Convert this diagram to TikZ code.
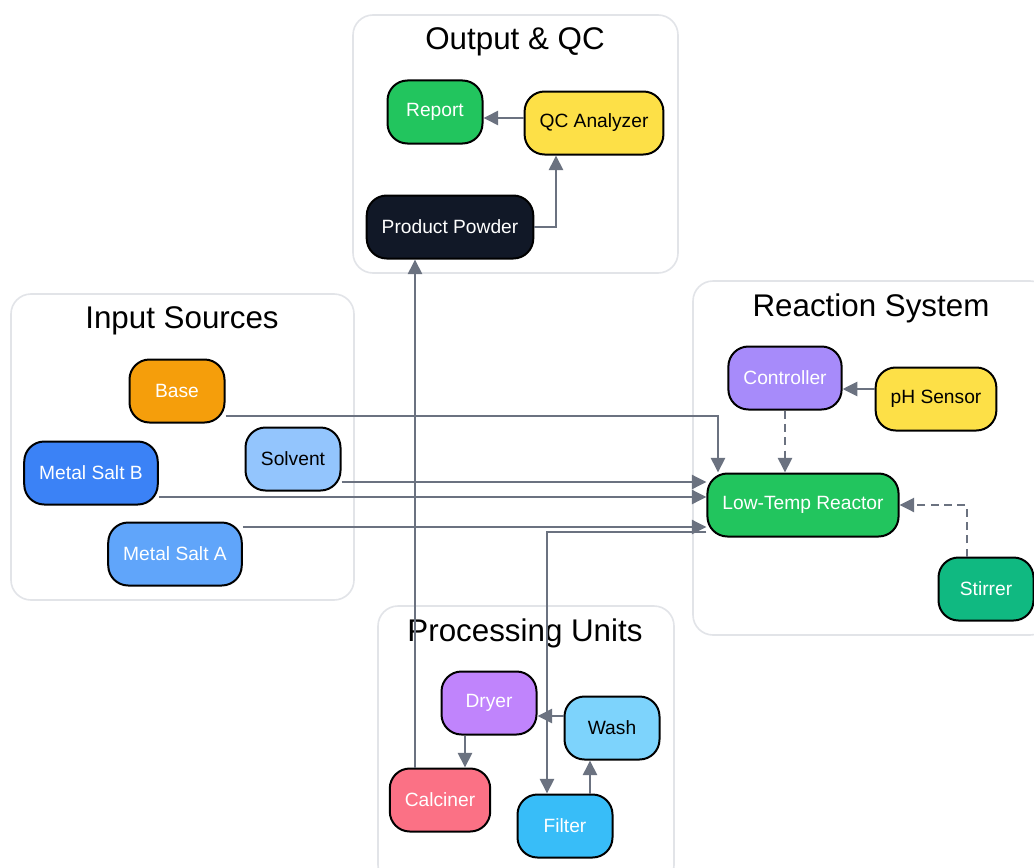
\documentclass[tikz,border=0pt]{standalone}
\usepackage{fontspec}
\setmainfont{Liberation Sans}
\usetikzlibrary{calc,arrows.meta}

\definecolor{edgegray}{RGB}{107,114,128}
\definecolor{clusterline}{RGB}{226,228,232}
\definecolor{okgreen}{RGB}{34,197,94}
\definecolor{qcyellow}{RGB}{253,224,71}
\definecolor{powderdark}{RGB}{17,24,39}
\definecolor{baseorange}{RGB}{245,158,11}
\definecolor{solventblue}{RGB}{147,197,253}
\definecolor{saltbblue}{RGB}{59,130,246}
\definecolor{saltablue}{RGB}{96,165,250}
\definecolor{ctrlpurple}{RGB}{167,139,250}
\definecolor{stirgreen}{RGB}{16,185,129}
\definecolor{dryerpurple}{RGB}{192,132,252}
\definecolor{washblue}{RGB}{125,211,252}
\definecolor{calcinerrose}{RGB}{251,113,133}
\definecolor{filterblue}{RGB}{56,189,248}

\tikzset{every picture/.style={line width=0.75pt}}

\begin{document}
\begin{tikzpicture}[x=0.75pt,y=0.75pt,yscale=-1,xscale=1,
  cluster/.style={draw=clusterline,line width=1.2pt,rounded corners=15pt},
  title/.style={font=\fontsize{23.5}{28}\selectfont},
  unit/.style={draw=black,line width=1.5pt,rounded corners=15pt,minimum width=71.25pt,minimum height=47.25pt,inner xsep=11.25pt,font=\fontsize{14.4}{17}\selectfont},
  flow/.style={draw=edgegray,line width=2pt,-{Triangle[length=11pt,width=10.5pt]}},
  signal/.style={flow,dash pattern=on 6pt off 4pt}]
\path[use as bounding box,fill=white] (0,0) rectangle (1034,867);

%Shape: Rectangle [Output & QC]
\draw[cluster] (353,15) rectangle (678,273);
%Shape: Rectangle [Input Sources]
\draw[cluster] (11,294) rectangle (354,600);
%Shape: Rectangle [Reaction System]
\draw[cluster] (693,281) rectangle (1050,635);
%Shape: Rectangle [Processing Units]
\draw[cluster] (378,606) rectangle (674,885);

% Text Node
\node[title] (outtitle) at (515,42) {Output \& QC};
% Text Node
\node[title] (intitle) at (182,321) {Input Sources};
% Text Node
\node[title] (rxtitle) at (871,308) {Reaction System};
% Text Node
\node[title] (proctitle) at (525,633) {Processing Units};

% Output & QC
\node[unit,fill=okgreen,text=white] (report) at (435,112) {Report};
\node[unit,fill=qcyellow] (qc) at (594,123) {QC Analyzer};
\node[unit,fill=powderdark,text=white] (powder) at (450,227) {Product Powder};

% Input Sources
\node[unit,fill=baseorange,text=white] (base) at (177,391) {Base};
\node[unit,fill=solventblue] (solvent) at (293,459) {Solvent};
\node[unit,fill=saltbblue,text=white] (saltb) at (91,473) {Metal Salt B};
\node[unit,fill=saltablue,text=white] (salta) at (175,554) {Metal Salt A};

% Reaction System
\node[unit,fill=ctrlpurple,text=white] (controller) at (785,378) {Controller};
\node[unit,fill=qcyellow] (ph) at (936,399) {pH Sensor};
\node[unit,fill=okgreen,text=white] (reactor) at (803,505) {Low-Temp Reactor};
\node[unit,fill=stirgreen,text=white] (stirrer) at (986,589) {Stirrer};

% Processing Units
\node[unit,fill=dryerpurple,text=white] (dryer) at (489,703) {Dryer};
\node[unit,fill=washblue] (wash) at (612,728) {Wash};
\node[unit,fill=calcinerrose,text=white] (calciner) at (440,800) {Calciner};
\node[unit,fill=filterblue,text=white] (filter) at (565,826) {Filter};

% feeds into the reactor
\draw[flow] ($(base.east)+(0,25)$) -| ($(reactor.north)+(-85,0)$);
\draw[flow] ($(solvent.east)+(0,23)$) coordinate (s0) -- (s0 -| reactor.west);
\draw[flow] ($(saltb.east)+(0,24)$) coordinate (b0) -- (b0 -| reactor.west);
\draw[flow] ($(salta.east)+(0,-27)$) coordinate (a0) -- (a0 -| reactor.west);

% control loop
\draw[flow] ($(ph.west)+(0,-10)$) coordinate (p0) -- (p0 -| controller.east);
\draw[signal] (controller.south) -- (controller.south |- reactor.north);
\draw[signal] ($(stirrer.north)+(-19,0)$) |- (reactor.east);

% processing chain
\draw[flow] ($(reactor.west)+(0,27)$) -| ($(filter.north)+(-18,0)$);
\draw[flow] ($(filter.north)+(25,0)$) coordinate (f0) -- (f0 |- wash.south);
\draw[flow] ($(wash.west)+(0,-12)$) coordinate (w0) -- (w0 -| dryer.east);
\draw[flow] ($(dryer.south)+(-24,0)$) coordinate (d0) -- (d0 |- calciner.north);
\draw[flow] ($(calciner.north)+(-25,0)$) coordinate (c0) -- (c0 |- powder.south);

% output
\draw[flow] (powder.east) -| ($(qc.south)+(-38,0)$);
\draw[flow] ($(qc.west)+(0,-5)$) coordinate (q0) -- (q0 -| report.east);

\end{tikzpicture}
\end{document}
